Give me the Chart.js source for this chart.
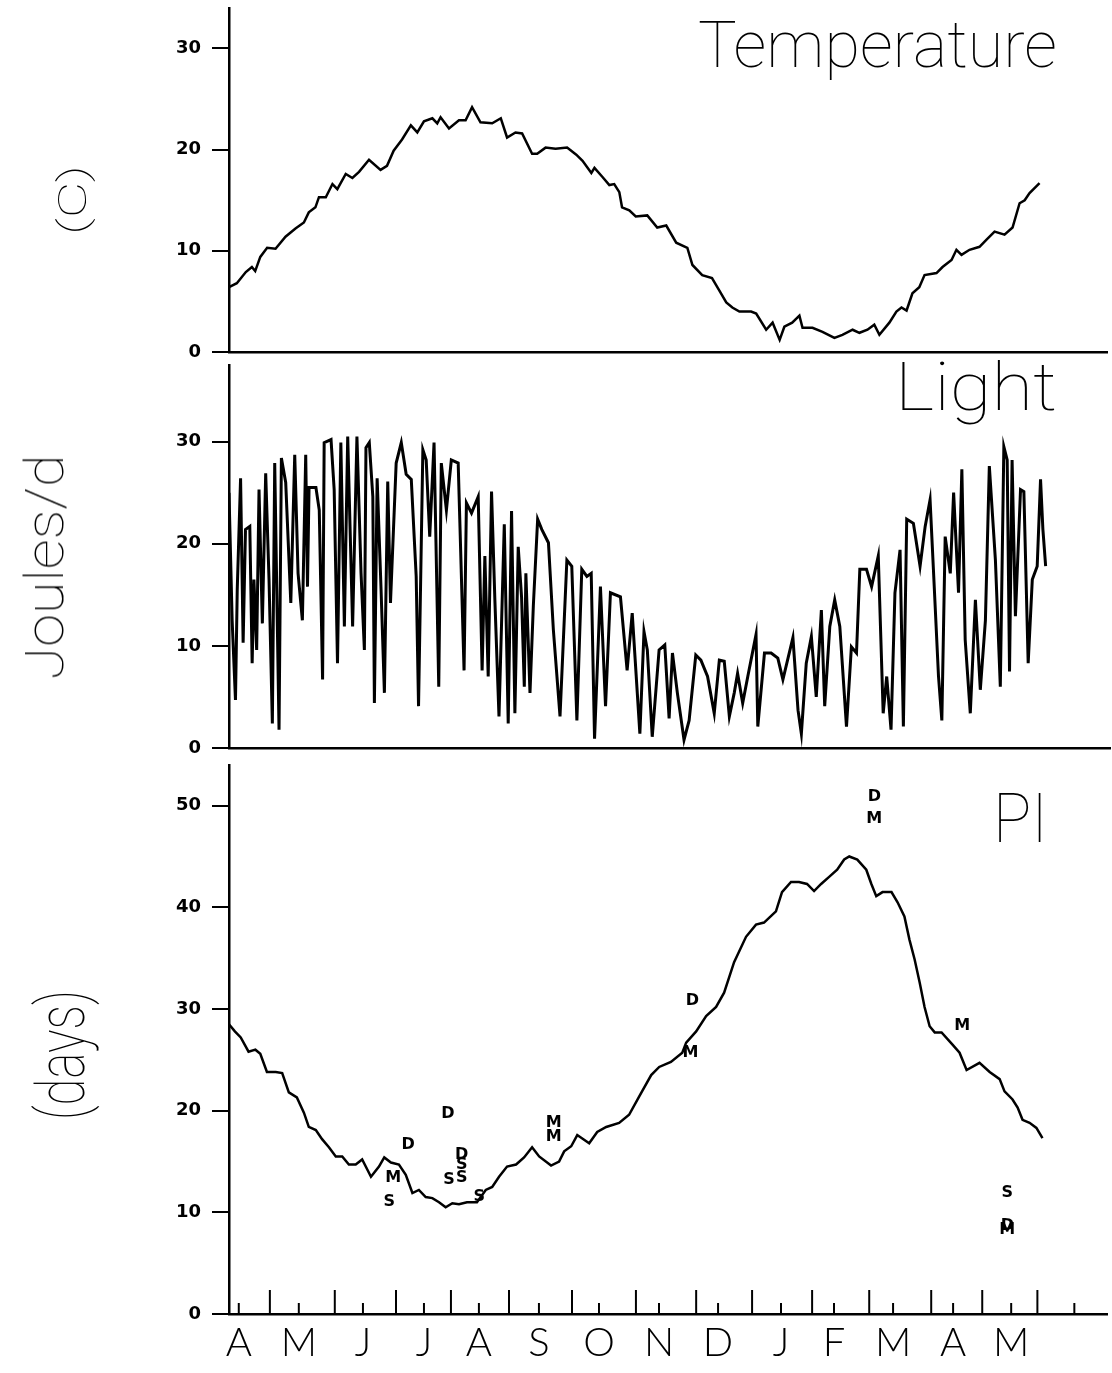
<!DOCTYPE html>
<html>
<head>
<meta charset="utf-8">
<script src="https://cdn.jsdelivr.net/npm/chart.js@4.4.1/dist/chart.umd.min.js"></script>
<style>
  body { margin: 0; background: #fff; width: 1112px; height: 1373px; position: relative; overflow: hidden; }
  canvas { position: absolute; left: 0; }
  .lbl { position: absolute; white-space: nowrap; font-family: Roboto, Lato, sans-serif; font-weight: 100; color: #000; line-height: 1; transform-origin: left top; }
  .rot { position: absolute; white-space: nowrap; font-family: Roboto, Lato, sans-serif; font-weight: 100; color: #000; line-height: 1; }
</style>
</head>
<body>
<canvas id="tempChart" width="1112" height="362" style="top:0"></canvas>
<canvas id="lightChart" width="1112" height="396" style="top:362px"></canvas>
<canvas id="piChart" width="1112" height="615" style="top:758px"></canvas>

<div class="lbl" id="tTemp">Temperature</div>
<div class="lbl" id="tLight">Light</div>
<div class="lbl" id="tPI">PI</div>
<div class="rot" id="yTemp">(C)</div>
<div class="rot" id="yLight">Joules/d</div>
<div class="rot" id="yPI">(days)</div>

<script>
// x = days from the start of the record (mid April)
const monthLabels = ["A", "M", "J", "J", "A", "S", "O", "N", "D", "J", "F", "M", "A", "M"];
const monthMidDays = [5.0, 35.7, 68.5, 99.7, 127.8, 158.5, 189.2, 219.9, 250.1, 282.3, 309.4, 339.6, 370.3, 400.0];
const minorTickDays = [5.0, 35.7, 68.5, 99.7, 127.8, 158.5, 189.2, 219.9, 250.1, 282.3, 309.4, 339.6, 370.3, 400.0, 432.3];
const monthStartDays = [20.9, 54.1, 85.4, 113.5, 143.2, 175.4, 208.1, 238.9, 267.5, 298.2, 327.4, 359.1, 385.2, 413.4];

// temperature (C)
const tempDay = [0, 4, 8.6, 11.7, 13.4, 16, 19.5, 23.8, 28.9, 34, 38.3, 40.8, 44.2, 46, 49.5, 52.9, 55.4, 59.7, 63.1, 66.5,
  71.6, 77.5, 80.8, 84.2, 88.5, 93, 96.3, 99.7, 104, 106.5, 108.2, 112.5, 117.6, 121, 124.3, 128.6, 134.6, 139, 142.2, 146.5,
  149.9, 155, 157.6, 161.9, 167, 172.9, 177.6, 180.8, 185.3, 186.9, 191, 194.5, 197, 199.6, 201, 204.7, 208, 213.9,
  219, 223.6, 228.7, 234.4, 237, 242, 247, 250.7, 254.3, 257.4, 261, 267, 269.6, 274.7, 278, 281.6, 284, 288, 291.7, 293.3,
  298.4, 303.5, 309.6, 313.7, 318.9, 322.4, 326.5, 330, 332.6, 337.7, 341.3, 343.9, 346.5, 349.5, 353, 355.7, 361.8, 364.9,
  369.5, 372, 374.6, 378.7, 383.8, 387.4, 391.5, 396.6, 400.7, 404.3, 406.9, 409.4, 414.5];
const tempVal = [6.4, 6.8, 7.9, 8.4, 8.0, 9.4, 10.3, 10.2, 11.4, 12.2, 12.8, 13.8, 14.3, 15.3, 15.3, 16.6, 16.1, 17.6, 17.2, 17.8,
  19.0, 18.0, 18.4, 19.9, 21.0, 22.4, 21.7, 22.8, 23.1, 22.6, 23.2, 22.1, 22.9, 22.9, 24.2, 22.7, 22.6, 23.1, 21.2, 21.7,
  21.6, 19.6, 19.6, 20.2, 20.1, 20.2, 19.5, 18.9, 17.7, 18.2, 17.3, 16.5, 16.6, 15.8, 14.3, 14.0, 13.4, 13.5,
  12.3, 12.5, 10.8, 10.3, 8.6, 7.6, 7.3, 6.1, 4.9, 4.4, 4.0, 4.0, 3.8, 2.2, 2.9, 1.2, 2.5, 2.9, 3.6, 2.4,
  2.4, 2.0, 1.4, 1.7, 2.2, 1.9, 2.2, 2.7, 1.7, 2.9, 4.0, 4.4, 4.1, 5.8, 6.4, 7.6, 7.8, 8.4,
  9.1, 10.1, 9.6, 10.1, 10.4, 11.1, 11.9, 11.6, 12.3, 14.7, 15.0, 15.7, 16.7];

// light (Joules/d)
const lightDay = [0, 1.6, 3.3, 4.2, 5.9, 7.2, 8.4, 10.6, 11.8, 12.7, 14.1, 15.3, 17.0, 18.7, 20.4, 22.1, 23.3, 25.5, 26.7, 28.9,
  31.5, 33.5, 35.2, 37.4, 39.1, 40.0, 40.8, 44.3, 46.0, 47.7, 48.5, 52.0, 53.6, 55.3, 57.0, 58.8, 60.5, 63.0, 65.2, 67.3,
  69.0, 69.8, 71.5, 73.3, 74.1, 75.5, 77.5, 79.2, 80.9, 82.3, 85.2, 87.8, 90.3, 92.9, 95.4, 96.6, 98.8, 100.5, 102.3, 104.5,
  106.9, 108.2, 110.8, 113.3, 116.8, 119.8, 121.0, 123.6, 127.0, 129.0, 130.4, 132.1, 133.8, 135.5, 137.6, 140.3, 142.3, 144.0,
  145.7, 147.4, 149.1, 150.5, 151.3, 153.4, 155.1, 157.3, 159.4, 162.8, 165.3, 168.7, 172.2, 174.7, 177.3, 179.8, 182.4, 184.6, 186.3,
  189.3, 191.9, 194.4, 199.5, 202.9, 205.5, 209.4, 211.5, 213.2, 215.7, 219.2, 222.1, 224.3, 226.0, 228.5, 231.9, 234.5, 237.9,
  240.5, 243.9, 247.3, 249.9, 252.4, 255.0, 257.5, 259.2, 261.8, 264.4, 268.6, 269.5, 272.9, 276.3, 279.7, 282.3, 287.4, 290.0,
  291.7, 294.2, 296.8, 299.3, 301.9, 303.6, 306.2, 308.7, 311.3, 314.7, 317.2, 319.8, 321.5, 324.9, 327.5, 330.9, 333.4, 335.2,
  337.4, 339.4, 342.0, 343.7, 345.4, 348.8, 352.2, 354.8, 357.3, 359.0, 361.6, 363.3, 365.0, 367.6, 369.3, 371.8, 373.5, 375.2,
  377.8, 380.4, 382.9, 385.5, 387.5, 390.6, 393.1, 394.9, 396.6, 397.8, 399.1, 400.8, 403.4, 405.1, 407.3, 409.4, 411.9, 413.6,
  414.8, 416.2];
const lightVal = [25.0, 12.5, 4.7, 15.5, 26.4, 10.3, 21.4, 21.7, 8.3, 16.5, 9.6, 25.3, 12.2, 26.9, 16.5, 2.4, 27.9, 1.8, 28.4, 26.0,
  14.2, 28.7, 17.1, 12.5, 28.7, 15.8, 25.5, 25.5, 23.3, 6.7, 29.9, 30.2, 25.3, 8.3, 29.9, 11.9, 30.5, 11.9, 30.5, 17.1,
  9.6, 29.4, 29.9, 24.6, 4.4, 26.4, 15.5, 5.4, 26.1, 14.2, 27.9, 29.9, 26.8, 26.3, 16.8, 4.1, 29.2, 28.2, 20.7, 29.9,
  6.0, 27.9, 23.3, 28.2, 27.9, 7.6, 24.0, 23.0, 24.6, 7.6, 18.8, 7.0, 25.1, 14.5, 3.1, 21.9, 2.4, 23.2,
  3.4, 19.7, 14.8, 6.0, 17.1, 5.4, 13.9, 22.4, 21.4, 20.1, 11.6, 3.1, 18.4, 17.8, 2.7, 17.5, 16.8, 17.1, 0.9,
  15.8, 4.1, 15.2, 14.8, 7.6, 13.2, 1.4, 11.4, 9.6, 1.1, 9.6, 10.1, 2.9, 9.3, 5.4, 0.8, 2.7, 9.1,
  8.6, 7.0, 3.4, 8.6, 8.5, 3.1, 5.4, 7.3, 4.4, 7.0, 11.1, 2.1, 9.3, 9.3, 8.8, 6.7, 10.8, 3.7,
  1.4, 8.3, 10.9, 5.0, 13.5, 4.1, 11.9, 14.5, 11.9, 2.1, 9.9, 9.3, 17.5, 17.5, 15.8, 18.8, 3.4, 7.0,
  1.8, 15.2, 19.4, 2.1, 22.4, 22.0, 17.8, 21.7, 24.3, 17.5, 7.0, 2.7, 20.7, 17.1, 25.0, 15.2, 27.3, 10.6,
  3.4, 14.5, 5.7, 12.5, 27.6, 18.4, 6.0, 29.5, 28.2, 7.5, 28.2, 12.9, 25.3, 25.1, 8.3, 16.5, 17.8, 26.3,
  21.4, 17.8];

// PI (days)
const piDay = [0, 3, 6, 10, 13.5, 16, 19.4, 23.9, 27.2, 30.6, 34.7, 38.3, 40.8, 44.4, 47.6, 51.1, 54.6, 57.9, 61.3, 64.8,
  68.1, 72.6, 76.7, 79.4, 82.8, 86.9, 90.4, 93.8, 97.1, 100.6, 104, 107.4, 110.8, 114.2, 117.6, 121.7, 126.8, 131.3, 134.6, 138.1,
  142.2, 146.8, 150.9, 155, 158.6, 164.7, 168.8, 171.4, 175, 178.1, 184.2, 188.3, 192.9, 199.5, 204.6, 209.8, 215.9, 220, 226, 231.8,
  233.8, 238.9, 244, 249.1, 253.2, 258.3, 264.4, 269.5, 273.6, 279.7, 282.8, 287.4, 291.5, 295.6, 299.2, 302.8, 306.9, 311, 314.6, 317.2,
  321.3, 325.9, 328.5, 331, 334.2, 338.8, 341.9, 345.4, 348, 350.6, 353.2, 355.7, 358.3, 360.9, 364.4, 370, 373.6, 377.2, 383.8, 389,
  394.1, 396.6, 400.7, 403.3, 405.8, 409.4, 412.9, 416];
const piVal = [28.5, 27.8, 27.2, 25.8, 26.0, 25.6, 23.8, 23.8, 23.7, 21.8, 21.3, 19.8, 18.4, 18.1, 17.2, 16.4, 15.5, 15.5, 14.7, 14.7,
  15.2, 13.5, 14.5, 15.4, 14.9, 14.7, 13.7, 11.9, 12.2, 11.5, 11.4, 11.0, 10.5, 10.9, 10.8, 11.0, 11.0, 12.2, 12.5, 13.5,
  14.5, 14.7, 15.4, 16.4, 15.5, 14.6, 15.0, 16.0, 16.5, 17.6, 16.8, 17.9, 18.4, 18.8, 19.6, 21.4, 23.5, 24.3, 24.8, 25.7,
  26.7, 27.8, 29.3, 30.2, 31.6, 34.6, 37.1, 38.3, 38.5, 39.6, 41.5, 42.5, 42.5, 42.3, 41.6, 42.3, 43.0, 43.7, 44.7, 45.0,
  44.7, 43.7, 42.3, 41.1, 41.5, 41.5, 40.5, 39.1, 36.8, 34.9, 32.6, 30.2, 28.3, 27.7, 27.7, 26.5, 25.7, 24.0, 24.7, 23.8,
  23.1, 21.9, 21.1, 20.3, 19.1, 18.8, 18.3, 17.3];

// letter marks in the PI panel
const markLetter = ["D", "M", "S", "D", "D", "S", "S", "S", "S", "M", "M", "D", "M", "D", "M", "M", "S", "D", "M"];
const markDay = [91.6, 84, 82, 112, 119, 119, 112.5, 119, 128, 166, 166, 237, 236, 330, 330, 375, 398, 398, 398];
const markVal = [16.6, 13.4, 11.0, 19.7, 15.7, 14.7, 13.2, 13.4, 11.5, 18.8, 17.4, 30.8, 25.7, 50.9, 48.7, 28.3, 11.9, 8.7, 8.3];

const tickFont = { family: '"DejaVu Sans", sans-serif', weight: 'bold', size: 18 };

function xScale(showLabels, height) {
  return {
    type: "linear",
    min: 0,
    max: 449,
    afterBuildTicks: (s) => { s.ticks = monthMidDays.map((v) => ({ value: v })); },
    afterFit: (s) => { s.height = height; s.paddingLeft = 0; s.paddingRight = 0; },
    ticks: {
      display: showLabels,
      autoSkip: false,
      maxRotation: 0,
      padding: 5,
      color: "#000",
      font: { family: 'Lato, "Open Sans", sans-serif', weight: 300, size: 40 },
      callback: (value, index) => monthLabels[index],
    },
    grid: { drawOnChartArea: false, drawTicks: false },
    border: { display: true, color: "#000", width: 2.5 },
  };
}

function yScale(max) {
  return {
    min: 0,
    max: max,
    afterFit: (s) => { s.width = 229; s.paddingTop = 0; s.paddingBottom = 0; },
    ticks: { stepSize: 10, includeBounds: false, padding: 11, color: "#000", font: tickFont },
    grid: { drawOnChartArea: false, drawTicks: true, tickLength: 17, color: "#000", lineWidth: 2 },
    border: { display: true, color: "#000", width: 2.5 },
  };
}

function lineSet(days, vals, width) {
  return {
    data: days.map((d, i) => ({ x: d, y: vals[i] })),
    borderColor: "#000",
    borderWidth: width,
    pointRadius: 0,
    fill: false,
    tension: 0,
  };
}

const baseOptions = (padding, showLabels, xHeight, yMax) => ({
  responsive: false,
  animation: false,
  layout: { padding: padding },
  scales: { x: xScale(showLabels, xHeight), y: yScale(yMax) },
  plugins: { legend: { display: false }, tooltip: { enabled: false } },
});

const inwardTicks = {
  id: "inwardTicks",
  afterDraw(chart) {
    const { ctx, chartArea, scales: { x } } = chart;
    ctx.save();
    ctx.strokeStyle = "#000";
    ctx.lineWidth = 2;
    const draw = (days, len) => days.forEach((d) => {
      const px = x.getPixelForValue(d);
      ctx.beginPath();
      ctx.moveTo(px, chartArea.bottom);
      ctx.lineTo(px, chartArea.bottom - len);
      ctx.stroke();
    });
    draw(minorTickDays, 11);
    draw(monthStartDays, 24);
    ctx.restore();
  },
};

const piMarks = {
  id: "piMarks",
  afterDatasetsDraw(chart) {
    const { ctx, scales: { x, y } } = chart;
    ctx.save();
    ctx.font = 'bold 16px "DejaVu Sans", sans-serif';
    ctx.fillStyle = "#000";
    ctx.textAlign = "center";
    ctx.textBaseline = "middle";
    markLetter.forEach((t, i) => ctx.fillText(t, x.getPixelForValue(markDay[i]), y.getPixelForValue(markVal[i])));
    ctx.restore();
  },
};

function createCharts() {
  new Chart(document.getElementById("tempChart"), {
    type: "line",
    data: { datasets: [lineSet(tempDay, tempVal, 2.5)] },
    options: baseOptions({ top: 8, right: 5, left: 0, bottom: 0 }, false, 10, 34),
  });
  new Chart(document.getElementById("lightChart"), {
    type: "line",
    data: { datasets: [lineSet(lightDay, lightVal, 3)] },
    options: baseOptions({ top: 3, right: 2, left: 0, bottom: 0 }, false, 10, 37.5),
  });
  new Chart(document.getElementById("piChart"), {
    type: "line",
    data: { datasets: [lineSet(piDay, piVal, 2.5)] },
    options: baseOptions({ top: 7, right: 5, left: 0, bottom: 0 }, true, 59, 54),
    plugins: [inwardTicks, piMarks],
  });
}

// fit a title into a box: left edge, top, width
function placeTitle(id, left, top, width, size) {
  const el = document.getElementById(id);
  el.style.fontSize = size + "px";
  el.style.left = left + "px";
  el.style.top = top + "px";
  const w = el.getBoundingClientRect().width;
  el.style.transform = "scaleX(" + (width / w) + ")";
}

// rotated axis title centred on (cx, cy) spanning length px
function placeRotated(id, cx, cy, length, size) {
  const el = document.getElementById(id);
  el.style.fontSize = size + "px";
  const w = el.getBoundingClientRect().width;
  el.style.left = cx + "px";
  el.style.top = cy + "px";
  el.style.transform = "translate(-50%, -50%) rotate(-90deg) scaleX(" + (length / w) + ")";
}

document.addEventListener("DOMContentLoaded", () => {
  createCharts();
  placeTitle("tTemp", 698, 14, 359, 64);
  placeTitle("tLight", 895, 355, 162, 66);
  placeTitle("tPI", 993, 784, 55, 69);
  placeRotated("yTemp", 73, 200, 70, 38);
  placeRotated("yLight", 45, 567, 225, 54);
  placeRotated("yPI", 62, 1055, 130, 66);
});
</script>
</body>
</html>
